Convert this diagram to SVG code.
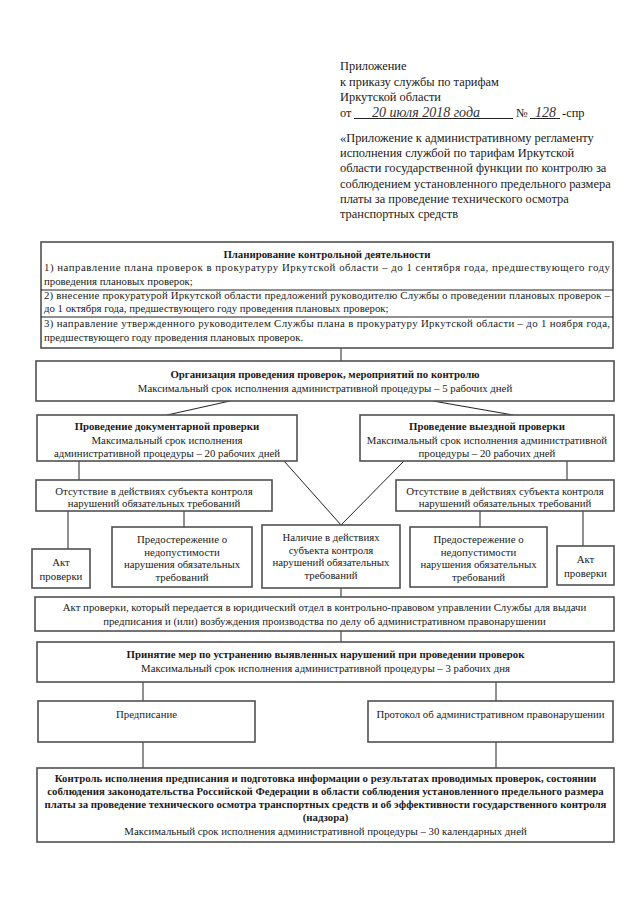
<svg xmlns="http://www.w3.org/2000/svg" width="639" height="905" viewBox="0 0 639 905">
<style>
.t{font-family:"Liberation Serif","DejaVu Serif",serif;font-size:10.8px;fill:#1a1a1a}
.b{font-weight:bold}
.c{text-anchor:middle}
.h{font-size:12.4px}
.hw{font-family:"Liberation Serif","DejaVu Serif",serif;font-style:italic;font-size:14px;fill:#333}
.box{fill:#fff;stroke:#505050;stroke-width:1.6}
.ln{stroke:#222;stroke-width:1;fill:none}
</style>
<rect width="639" height="905" fill="#fff"/>
<g id="header">
<text class="t h" x="340" y="70">Приложение</text>
<text class="t h" x="340" y="85.5">к приказу службы по тарифам</text>
<text class="t h" x="340" y="101">Иркутской области</text>
<text class="t h" x="340" y="116.5">от</text>
<line class="ln" x1="354" y1="118.5" x2="513" y2="118.5"/>
<text class="hw" x="372" y="116.5">20 июля 2018 года</text>
<text class="t h" x="516" y="116.5">№</text>
<line class="ln" x1="530" y1="118.5" x2="560" y2="118.5"/>
<text class="hw" x="535" y="116.5">128</text>
<text class="t h" x="562" y="116.5">-спр</text>
<text class="t h" x="340" y="142">«Приложение к административному регламенту</text>
<text class="t h" x="340" y="157">исполнения службой по тарифам Иркутской</text>
<text class="t h" x="340" y="172">области государственной функции по контролю за</text>
<text class="t h" x="340" y="187.5">соблюдением установленного предельного размера</text>
<text class="t h" x="340" y="203">платы за проведение технического осмотра</text>
<text class="t h" x="340" y="218">транспортных средств</text>
</g>
<g id="connectors">
<line class="ln" x1="341" y1="348" x2="341" y2="361"/>
<line class="ln" x1="230" y1="401" x2="167" y2="415"/>
<line class="ln" x1="433" y1="401" x2="513" y2="415"/>
<line class="ln" x1="79" y1="461" x2="79" y2="480"/>
<line class="ln" x1="284" y1="461" x2="341" y2="525"/>
<line class="ln" x1="404" y1="461" x2="341" y2="525"/>
<line class="ln" x1="567" y1="461" x2="567" y2="480"/>
<line class="ln" x1="68" y1="511" x2="68" y2="549"/>
<line class="ln" x1="184" y1="511" x2="184" y2="527"/>
<line class="ln" x1="480" y1="511" x2="480" y2="527"/>
<line class="ln" x1="583" y1="511" x2="583" y2="546"/>
<line class="ln" x1="341" y1="588" x2="341" y2="597"/>
<line class="ln" x1="341" y1="631" x2="341" y2="642"/>
<line class="ln" x1="143" y1="682" x2="143" y2="701"/>
<line class="ln" x1="496" y1="682" x2="496" y2="701"/>
<line class="ln" x1="143" y1="742" x2="143" y2="768"/>
<line class="ln" x1="496" y1="742" x2="496" y2="768"/>
</g>
<g id="planning">
<rect class="box" x="41" y="242" width="572" height="106"/>
<line class="ln" x1="41" y1="290" x2="613" y2="290" stroke="#888"/>
<line class="ln" x1="41" y1="317" x2="613" y2="317" stroke="#888"/>
<text class="t b c" x="327" y="258">Планирование контрольной деятельности</text>
<text class="t" x="44" y="271" textLength="566" lengthAdjust="spacing">1) направление плана проверок в прокуратуру Иркутской области – до 1 сентября года, предшествующего году</text>
<text class="t" x="44" y="285">проведения плановых проверок;</text>
<text class="t" x="44" y="299" textLength="566" lengthAdjust="spacing">2) внесение прокуратурой Иркутской области предложений руководителю Службы о проведении плановых проверок –</text>
<text class="t" x="44" y="312">до 1 октября года, предшествующего году проведения плановых проверок;</text>
<text class="t" x="44" y="327" textLength="566" lengthAdjust="spacing">3) направление утвержденного руководителем Службы плана в прокуратуру Иркутской области – до 1 ноября года,</text>
<text class="t" x="44" y="341">предшествующего году проведения плановых проверок.</text>
</g>
<g id="organization">
<rect class="box" x="36" y="361" width="578" height="40"/>
<text class="t b c" x="325" y="378">Организация проведения проверок, мероприятий по контролю</text>
<text class="t c" x="325" y="392">Максимальный срок исполнения административной процедуры – 5 рабочих дней</text>
</g>
<g id="documentary">
<rect class="box" x="37" y="415" width="260" height="46"/>
<text class="t b c" x="167" y="430">Проведение документарной проверки</text>
<text class="t c" x="167" y="443.5">Максимальный срок исполнения</text>
<text class="t c" x="167" y="457">административной процедуры – 20 рабочих дней</text>
</g>
<g id="field">
<rect class="box" x="360" y="415" width="254" height="46"/>
<text class="t b c" x="487" y="430">Проведение выездной проверки</text>
<text class="t c" x="487" y="443.5">Максимальный срок исполнения административной</text>
<text class="t c" x="487" y="457">процедуры – 20 рабочих дней</text>
</g>
<g id="absence-left">
<rect class="box" x="36" y="480" width="236" height="31"/>
<text class="t c" x="154" y="494.5">Отсутствие в действиях субъекта контроля</text>
<text class="t c" x="154" y="507">нарушений обязательных требований</text>
</g>
<g id="absence-right">
<rect class="box" x="396" y="480" width="218" height="31"/>
<text class="t c" x="505" y="494.5">Отсутствие в действиях субъекта контроля</text>
<text class="t c" x="505" y="507">нарушений обязательных требований</text>
</g>
<g id="act-left">
<rect class="box" x="32" y="549" width="58" height="39"/>
<text class="t c" x="61" y="566">Акт</text>
<text class="t c" x="61" y="580">проверки</text>
</g>
<g id="warning-left">
<rect class="box" x="112" y="527" width="140" height="60"/>
<text class="t c" x="182" y="543">Предостережение о</text>
<text class="t c" x="182" y="555.5">недопустимости</text>
<text class="t c" x="182" y="568">нарушения обязательных</text>
<text class="t c" x="182" y="580.5">требований</text>
</g>
<g id="presence">
<rect class="box" x="262" y="525" width="138" height="63"/>
<text class="t c" x="331" y="541">Наличие в действиях</text>
<text class="t c" x="331" y="553.5">субъекта контроля</text>
<text class="t c" x="331" y="566">нарушений обязательных</text>
<text class="t c" x="331" y="578.5">требований</text>
</g>
<g id="warning-right">
<rect class="box" x="410" y="527" width="137" height="60"/>
<text class="t c" x="478.5" y="543">Предостережение о</text>
<text class="t c" x="478.5" y="555.5">недопустимости</text>
<text class="t c" x="478.5" y="568">нарушения обязательных</text>
<text class="t c" x="478.5" y="580.5">требований</text>
</g>
<g id="act-right">
<rect class="box" x="557" y="546" width="57" height="39"/>
<text class="t c" x="585.5" y="563">Акт</text>
<text class="t c" x="585.5" y="577">проверки</text>
</g>
<g id="act-transfer">
<rect class="box" x="35" y="597" width="579" height="34"/>
<text class="t c" x="324.5" y="611">Акт проверки, который передается в юридический отдел в контрольно-правовом управлении Службы для выдачи</text>
<text class="t c" x="324.5" y="625">предписания и (или) возбуждения производства по делу об административном правонарушении</text>
</g>
<g id="measures">
<rect class="box" x="37" y="642" width="577" height="40"/>
<text class="t b c" x="325.5" y="658">Принятие мер по устранению выявленных нарушений при проведении проверок</text>
<text class="t c" x="325.5" y="672">Максимальный срок исполнения административной процедуры – 3 рабочих дня</text>
</g>
<g id="order">
<rect class="box" x="38" y="701" width="217" height="41"/>
<text class="t c" x="146.5" y="718">Предписание</text>
</g>
<g id="protocol">
<rect class="box" x="368" y="701" width="245" height="41"/>
<text class="t c" x="490.5" y="718">Протокол об административном правонарушении</text>
</g>
<g id="control">
<rect class="box" x="37" y="768" width="577" height="74"/>
<text class="t b c" x="325.5" y="782">Контроль исполнения предписания и подготовка информации о результатах проводимых проверок, состоянии</text>
<text class="t b c" x="325.5" y="795">соблюдения законодательства Российской Федерации в области соблюдения установленного предельного размера</text>
<text class="t b c" x="325.5" y="808">платы за проведение технического осмотра транспортных средств и об эффективности государственного контроля</text>
<text class="t b c" x="325.5" y="821">(надзора)</text>
<text class="t c" x="325.5" y="835">Максимальный срок исполнения административной процедуры – 30 календарных дней</text>
</g>
</svg>
